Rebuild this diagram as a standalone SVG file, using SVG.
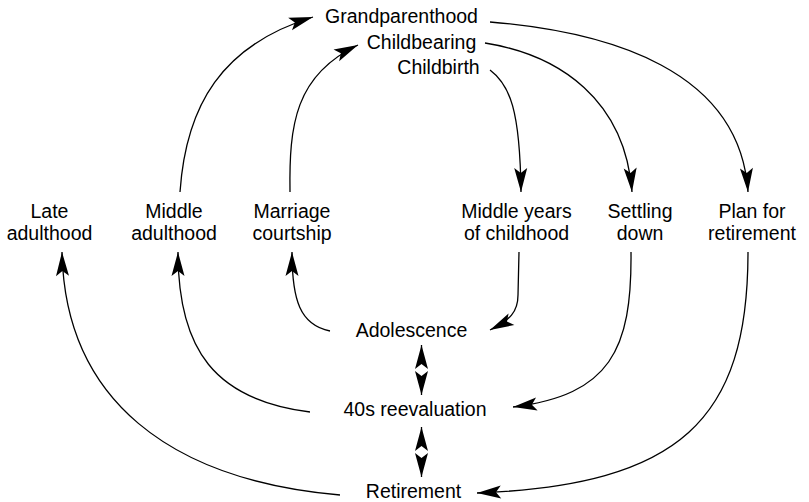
<svg xmlns="http://www.w3.org/2000/svg" width="809" height="502" viewBox="0 0 809 502">
<style>
text{font-family:"Liberation Sans",Arial,sans-serif;font-size:19.5px;fill:#000;text-anchor:middle}
.c{fill:none;stroke:#000;stroke-width:1.3}
</style>
<defs>
<marker id="ah" markerUnits="userSpaceOnUse" viewBox="-25 -8 27 16" refX="0" refY="0" markerWidth="27" markerHeight="16" orient="auto-start-reverse">
<path d="M0,0 L-24,-6.5 L-19,0 L-24,6.5 Z" fill="#000"/>
</marker>
</defs>
<rect width="809" height="502" fill="#fff"/>
<g id="grandparenthood"><text x="401.5" y="23">Grandparenthood</text></g>
<g id="childbearing"><text x="421.5" y="49">Childbearing</text></g>
<g id="childbirth"><text x="438.5" y="74">Childbirth</text></g>
<g id="late-adulthood"><text x="49.5" y="218">Late</text><text x="49.5" y="239.5">adulthood</text></g>
<g id="middle-adulthood"><text x="174" y="218">Middle</text><text x="174" y="239.5">adulthood</text></g>
<g id="marriage-courtship"><text x="292" y="218">Marriage</text><text x="292" y="239.5">courtship</text></g>
<g id="middle-years"><text x="516.5" y="218">Middle years</text><text x="516.5" y="239.5">of childhood</text></g>
<g id="settling-down"><text x="640" y="218">Settling</text><text x="640" y="239.5">down</text></g>
<g id="plan-retirement"><text x="752" y="218">Plan for</text><text x="752" y="239.5">retirement</text></g>
<g id="adolescence"><text x="411.5" y="337">Adolescence</text></g>
<g id="reevaluation"><text x="415" y="416">40s reevaluation</text></g>
<g id="retirement"><text x="413.5" y="498">Retirement</text></g>
<g id="connectors">
<path class="c" marker-end="url(#ah)" d="M180,192 C186,105 222,45 313,17"/>
<path class="c" marker-end="url(#ah)" d="M290,192 C289,125 295,75 358,45"/>
<path class="c" marker-end="url(#ah)" d="M490,22 C610,32 740,70 748,192"/>
<path class="c" marker-end="url(#ah)" d="M485,43 C560,55 625,100 632,192"/>
<path class="c" marker-end="url(#ah)" d="M490,70 C510,85 520,110 521,192"/>
<path class="c" marker-end="url(#ah)" d="M519,252 L518,295 C518,312 510,320 490,330"/>
<path class="c" marker-end="url(#ah)" d="M631,252 C632,350 610,395 513,407"/>
<path class="c" marker-end="url(#ah)" d="M748,252 C748,420 680,485 477,493"/>
<path class="c" marker-end="url(#ah)" d="M330,331 C300,325 292,300 292,252"/>
<path class="c" marker-end="url(#ah)" d="M310,412 C215,400 178,350 178,252"/>
<path class="c" marker-end="url(#ah)" d="M340,495 C170,480 65,400 62,252"/>
<path class="c" marker-end="url(#ah)" d="M421.5,362 L421.5,345"/>
<path class="c" marker-end="url(#ah)" d="M421.5,378 L421.5,395"/>
<path class="c" marker-end="url(#ah)" d="M421.5,444 L421.5,427"/>
<path class="c" marker-end="url(#ah)" d="M421.5,460 L421.5,477"/>
</g>
</svg>
